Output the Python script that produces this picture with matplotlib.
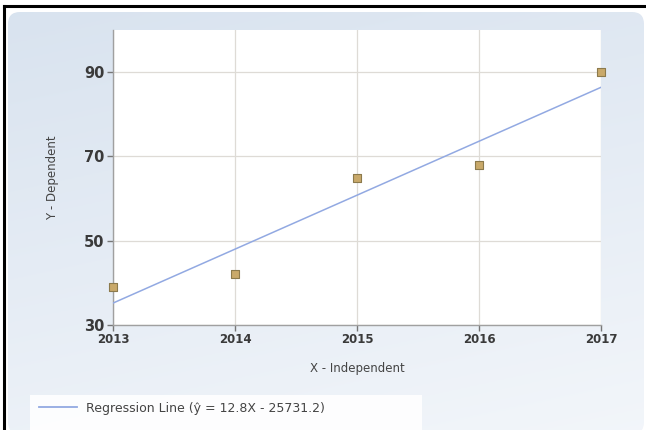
import numpy as np
import matplotlib
matplotlib.use("Agg")
import matplotlib.pyplot as plt
from matplotlib.patches import FancyBboxPatch, Rectangle
from matplotlib.lines import Line2D

years = [2013, 2014, 2015, 2016, 2017]
values = [39, 42, 65, 68, 90]
slope = 12.8
intercept = -25731.2
xticks = [2013, 2014, 2015, 2016, 2017]
yticks = [30, 50, 70, 90]
legend_label = "Regression Line (ŷ = 12.8X - 25731.2)"

W, H = 646, 430
fig = plt.figure(figsize=(W / 100, H / 100), dpi=100)
fig.patch.set_facecolor("white")

# background gradient panel
bg = fig.add_axes([0, 0, 1, 1], zorder=-5)
bg.set_xlim(0, W)
bg.set_ylim(H, 0)
bg.axis("off")
gy, gx = np.mgrid[0:1:200j, 0:1:200j]
t = np.clip(0.6 * gy + 0.2 * gx, 0, 1)
top = np.array([0.850, 0.890, 0.938])
bot = np.array([0.975, 0.982, 0.992])
img = top[None, None, :] * (1 - t[..., None]) + bot[None, None, :] * t[..., None]
panel = FancyBboxPatch((8, 12), W - 10, H - 8, boxstyle="round,pad=0,rounding_size=12",
                       transform=bg.transData, facecolor="none", edgecolor="none")
bg.add_patch(panel)
im = bg.imshow(img, extent=[8, W, H, 12], aspect="auto", zorder=0)
im.set_clip_path(panel)
# outer black frame (top & left)
bg.add_line(Line2D([4, W], [6, 6], color="black", lw=2.2, zorder=3))
bg.add_line(Line2D([4, 4], [6, H], color="black", lw=2.2, zorder=3))
# legend white strip
bg.add_patch(Rectangle((30, 395), 392, 35, facecolor="white", edgecolor="none", zorder=2, alpha=0.9))

ax = fig.add_axes([113 / W, 1 - 325 / H, (601 - 113) / W, (325 - 30) / H])
ax.set_facecolor("white")
ax.set_xlim(2013, 2017)
ax.set_ylim(30, 100)

xs = np.array([2013, 2017])
ax.plot(xs, slope * xs + intercept, color="#92a9e2", lw=1.1, zorder=3)
ax.scatter(years, values, marker="s", s=34, facecolor="#c9a96a", edgecolor="#8c7a4c",
           linewidths=0.8, zorder=4, clip_on=False)

ax.set_xticks(xticks)
ax.set_yticks(yticks)
ax.set_xticklabels([str(v) for v in xticks], fontsize=8.5, fontweight="bold", color="#3a3a3a")
ax.set_yticklabels([str(v) for v in yticks], fontsize=10.5, fontweight="bold", color="#3a3a3a")
ax.tick_params(axis="both", length=4, width=1, color="#777777", pad=2)
ax.grid(True, color="#dedbd6", lw=0.9)
ax.set_axisbelow(True)
for s in ["top", "right"]:
    ax.spines[s].set_visible(False)
for s in ["left", "bottom"]:
    ax.spines[s].set_color("#a0a0a0")
    ax.spines[s].set_linewidth(1)

ax.set_xlabel("X - Independent", fontsize=8.5, color="#444444", labelpad=11)
ax.set_ylabel("Y - Dependent", fontsize=8.5, color="#444444", labelpad=18)

handle = Line2D([], [], color="#92a9e2", lw=1.3)
fig.legend([handle], [legend_label], loc="lower left", bbox_to_anchor=(28 / W, 4 / H),
           frameon=False, fontsize=9, labelcolor="#444444", handlelength=3.0, handletextpad=0.7)

fig.savefig("out.png", dpi=100)
